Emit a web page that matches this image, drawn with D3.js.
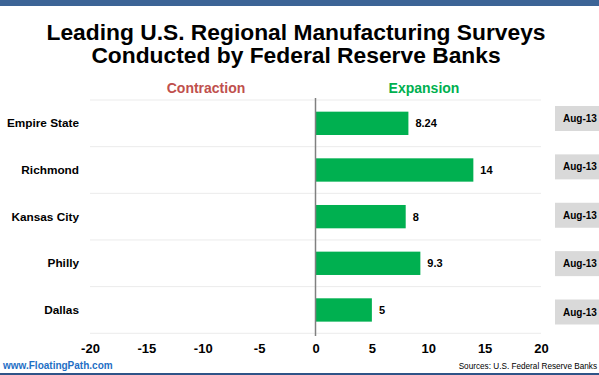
<!DOCTYPE html>
<html>
<head>
<meta charset="utf-8">
<script src="https://cdn.jsdelivr.net/npm/d3@7"></script>
<style>
  body { margin: 0; background: #fff; }
  text { font-family: "Liberation Sans", Arial, sans-serif; }
</style>
</head>
<body>
<div id="chart"></div>
<script>
// data
const regions = ["Empire State", "Richmond", "Kansas City", "Philly", "Dallas"];
const values = [8.24, 14, 8, 9.3, 5];
const valueLabels = ["8.24", "14", "8", "9.3", "5"];
const dates = ["Aug-13", "Aug-13", "Aug-13", "Aug-13", "Aug-13"];
const ticks = [-20, -15, -10, -5, 0, 5, 10, 15, 20];

const W = 599, H = 375;
const svg = d3.select("#chart").append("svg")
  .attr("width", W).attr("height", H);

// top band + bottom rule
svg.append("rect").attr("x", 0).attr("y", 0).attr("width", W).attr("height", 6)
  .attr("fill", "#3c6496");
svg.append("rect").attr("x", 0).attr("y", 373).attr("width", W).attr("height", 2)
  .attr("fill", "#2f5488");

// title (two lines)
const titleLines = ["Leading U.S. Regional Manufacturing Surveys", "Conducted by Federal Reserve Banks"];
svg.append("g").selectAll("text").data(titleLines).join("text")
  .attr("x", 296).attr("y", (d, i) => 39.5 + i * 23.5)
  .attr("text-anchor", "middle")
  .attr("font-weight", "bold").attr("font-size", 22.8).attr("fill", "#000")
  .text(d => d);

const x = d3.scaleLinear().domain([-20, 20]).range([90, 541]);
const y = d3.scaleBand().domain(regions).range([100, 333.3]).paddingInner(0.5).paddingOuter(0.25);
const yBox = d3.scalePoint().domain(regions).range([118.5, 312]);

// section headers
svg.append("text").attr("x", 206).attr("y", 93).attr("text-anchor", "middle")
  .attr("font-weight", "bold").attr("font-size", 14).attr("fill", "#c0504d").text("Contraction");
svg.append("text").attr("x", 424).attr("y", 93).attr("text-anchor", "middle")
  .attr("font-weight", "bold").attr("font-size", 14).attr("fill", "#00b050").text("Expansion");

// horizontal separators
const seps = d3.range(regions.length + 1).map(i => 100 + i * (233.3 / regions.length));
svg.append("g").selectAll("line").data(seps).join("line")
  .attr("x1", x(-20)).attr("x2", x(20))
  .attr("y1", d => d).attr("y2", d => d)
  .attr("stroke", "#ebebeb").attr("stroke-width", 1);

// bars
svg.append("g").selectAll("rect").data(regions).join("rect")
  .attr("x", x(0))
  .attr("y", d => y(d))
  .attr("width", (d, i) => x(values[i]) - x(0))
  .attr("height", y.bandwidth())
  .attr("fill", "#00b050");

// zero line
svg.append("line").attr("x1", x(0)).attr("x2", x(0)).attr("y1", 98).attr("y2", 336)
  .attr("stroke", "#808080").attr("stroke-width", 1.5);

// value labels
svg.append("g").selectAll("text").data(regions).join("text")
  .attr("x", (d, i) => x(values[i]) + 7)
  .attr("y", d => y(d) + y.bandwidth() / 2 + 4)
  .attr("font-weight", "bold").attr("font-size", 11).attr("fill", "#000")
  .text((d, i) => valueLabels[i]);

// category labels
svg.append("g").selectAll("text").data(regions).join("text")
  .attr("x", 79)
  .attr("y", d => y(d) + y.bandwidth() / 2 + 4)
  .attr("text-anchor", "end")
  .attr("font-weight", "bold").attr("font-size", 11.8).attr("fill", "#000")
  .text(d => d);

// x axis
const xAxis = svg.append("g").attr("transform", "translate(0,336)")
  .call(d3.axisBottom(x).tickValues(ticks).tickSize(0).tickPadding(8).tickFormat(d => String(d)));
xAxis.select(".domain").remove();
xAxis.selectAll("text")
  .attr("font-family", "'Liberation Sans', Arial, sans-serif")
  .attr("font-weight", "bold").attr("font-size", 13).attr("fill", "#000");

// date boxes
const boxes = svg.append("g").selectAll("g").data(regions).join("g")
  .attr("transform", d => `translate(555,${yBox(d) - 12.5})`);
boxes.append("rect").attr("width", 50).attr("height", 25).attr("fill", "#d9d9d9");
boxes.append("text").attr("x", 8).attr("y", 16)
  .attr("font-weight", "bold").attr("font-size", 10).attr("fill", "#000")
  .text((d, i) => dates[i]);

// footer
svg.append("text").attr("x", 3).attr("y", 369)
  .attr("font-weight", "bold").attr("font-size", 10).attr("fill", "#1f6fc5")
  .text("www.FloatingPath.com");
svg.append("text").attr("x", 597).attr("y", 369).attr("text-anchor", "end")
  .attr("font-size", 8.2).attr("fill", "#000")
  .text("Sources: U.S. Federal Reserve Banks");
</script>
</body>
</html>
